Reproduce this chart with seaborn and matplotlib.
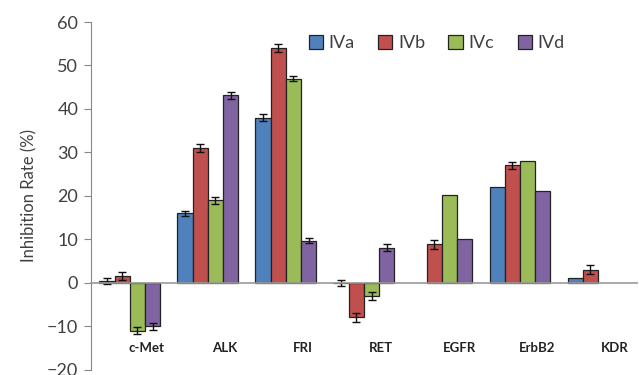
import numpy as np
import pandas as pd
import matplotlib
matplotlib.use("Agg")
import matplotlib.pyplot as plt
import seaborn as sns

# values
targets = ['c-Met', 'ALK', 'FRI', 'RET', 'EGFR', 'ErbB2', 'KDR']
compounds = ['IVa', 'IVb', 'IVc', 'IVd']

iva = [0.3, 16.0, 38.0, 0.0, np.nan, 22.0, 1.0]
ivb = [1.5, 31.0, 54.0, -8.0, 8.8, 27.0, 3.0]
ivc = [-11.0, 19.0, 47.0, -3.0, 20.2, 28.0, np.nan]
ivd = [-10.0, 43.2, 9.7, 8.0, 10.0, 21.0, np.nan]

iva_err = [0.7, 0.6, 0.8, 0.7, np.nan, np.nan, np.nan]
ivb_err = [0.9, 0.9, 0.9, 1.0, 1.0, 0.8, 1.0]
ivc_err = [0.8, 0.8, 0.5, 0.9, np.nan, np.nan, np.nan]
ivd_err = [0.8, 0.8, 0.6, 0.8, np.nan, np.nan, np.nan]

colors = ['#4F81BD', '#C0504D', '#9BBB59', '#8064A2']

values = [iva, ivb, ivc, ivd]
errors = [iva_err, ivb_err, ivc_err, ivd_err]

df = pd.DataFrame({
    'target': np.tile(targets, len(compounds)),
    'compound': np.repeat(compounds, len(targets)),
    'rate': np.concatenate(values),
})

sns.set_style('white')
plt.rcParams['font.family'] = ['Lato', 'DejaVu Sans']

fig = plt.figure(figsize=(6.39, 3.75), dpi=100)
ax = fig.add_axes([0.142, 0.0144, 0.855, 0.9268])

width = 0.78
sns.barplot(data=df, x='target', y='rate', hue='compound', order=targets,
            hue_order=compounds, palette=colors, width=width, errorbar=None,
            edgecolor='#222222', linewidth=0.9, saturation=1, ax=ax)

# error bars
bw = width / len(compounds)
for j, (vals, errs) in enumerate(zip(values, errors)):
    xs = np.arange(len(targets)) + (j - 1.5) * bw
    ax.errorbar(xs, vals, yerr=errs, fmt='none', ecolor='#111111',
                elinewidth=1, capsize=3, capthick=1)

ax.set_ylim(-20, 60)
ax.set_xlim(-0.5, len(targets) - 0.5)
ax.set_yticks(range(-20, 61, 10))
ax.tick_params(axis='y', labelsize=13, colors='#888888', length=5,
               width=0.8, direction='out', left=True, pad=4)
for lab in ax.get_yticklabels():
    lab.set_color('#404040')
ax.set_xticks([])
ax.set_xlabel('')
ax.set_ylabel('Inhibition Rate (%)', fontsize=12, color='#404040', labelpad=7)

for side in ['top', 'right']:
    ax.spines[side].set_visible(False)
ax.spines['left'].set_color('#888888')
ax.spines['bottom'].set_color('#999999')
ax.spines['bottom'].set_position(('data', 0))
ax.spines['bottom'].set_linewidth(1.2)

# category labels sit a bit below and right of each group
for i, t in enumerate(targets):
    ax.text(i + 0.22, -15, t, ha='center', va='center', fontsize=9.5,
            fontweight='bold', color='#222222')

ax.legend(loc='center', bbox_to_anchor=(0.633, 0.94), ncol=4, frameon=False,
          fontsize=13, handlelength=0.8, handleheight=0.8, handletextpad=0.3,
          columnspacing=1.3, labelcolor='#404040')

plt.savefig('out.png', dpi=100)
plt.close()
